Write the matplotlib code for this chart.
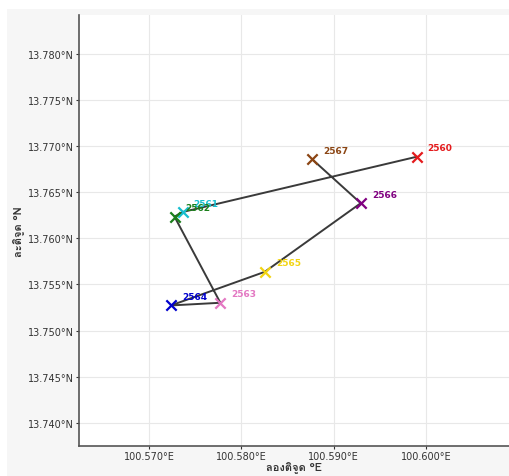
import matplotlib
matplotlib.use("Agg")
import matplotlib.pyplot as plt
from matplotlib import font_manager
from matplotlib.ft2font import FT2Font
from matplotlib.patches import Rectangle
from matplotlib.ticker import FuncFormatter, MultipleLocator

years = ["2560", "2561", "2562", "2563", "2564", "2565", "2566", "2567"]
lons = [100.59899, 100.57362, 100.57275, 100.57772, 100.57236, 100.58253, 100.59293, 100.58768]
lats = [13.76884, 13.76285, 13.76235, 13.75302, 13.75273, 13.75637, 13.76381, 13.76856]
colors = ["#e41a1c", "#17becf", "#1a7f1a", "#e377c2", "#0000cd", "#f2d411", "#800080", "#8b4513"]
x_label = "ลองติจูด °E"
y_label = "ละติจูด °N"

# find a font with Thai glyphs
thai_font = None
for f in font_manager.fontManager.ttflist:
    try:
        ft = FT2Font(f.fname)
        if ft.get_char_index(0x0E25):
            thai_font = f.name
            break
    except Exception:
        pass
label_family = [thai_font, "DejaVu Sans"] if thai_font else ["DejaVu Sans"]

fig = plt.figure(figsize=(5.09, 4.77), dpi=100, facecolor="#f6f6f6")
fig.patches.append(Rectangle((0, 1 - 10 / 477), 1, 10 / 477, transform=fig.transFigure,
                             facecolor="white", edgecolor="none", zorder=0))
fig.patches.append(Rectangle((0, 0), 7 / 509, 1, transform=fig.transFigure,
                             facecolor="white", edgecolor="none", zorder=0))
ax = fig.add_axes([79 / 509, 1 - 447 / 477, 430 / 509, 431 / 477])
ax.set_facecolor("white")

ax.plot(lons, lats, color="#3a3a3a", lw=1.4, zorder=2)
for lo, la, c, y in zip(lons, lats, colors, years):
    ax.scatter([lo], [la], marker="x", s=55, color=c, linewidths=1.6, zorder=3)
    ax.annotate(y, (lo, la), xytext=(8, 6.5), textcoords="offset points",
                color=c, fontsize=6.5, fontweight="bold", va="center", ha="left", zorder=4)

ax.set_xlim(100.5624, 100.6090)
ax.set_ylim(13.7375, 13.7842)
ax.xaxis.set_major_locator(MultipleLocator(0.01))
ax.yaxis.set_major_locator(MultipleLocator(0.005))
ax.xaxis.set_major_formatter(FuncFormatter(lambda v, p: f"{v:.3f}°E"))
ax.yaxis.set_major_formatter(FuncFormatter(lambda v, p: f"{v:.3f}°N"))
ax.tick_params(labelsize=7, colors="#333333", length=2, width=0.8, pad=1.5)
ax.grid(True, color="#e8e8e8", lw=0.8, zorder=0)
ax.set_axisbelow(True)
for s in ["top", "right"]:
    ax.spines[s].set_visible(False)
for s in ["left", "bottom"]:
    ax.spines[s].set_color("#555555")
    ax.spines[s].set_linewidth(1.2)

ax.set_xlabel(x_label, family=label_family, fontsize=8, fontweight="bold", color="#333333", labelpad=0)
ax.set_ylabel(y_label, family=label_family, fontsize=8, fontweight="bold", color="#333333", labelpad=2)

fig.savefig("out.png", dpi=100, facecolor=fig.get_facecolor())
